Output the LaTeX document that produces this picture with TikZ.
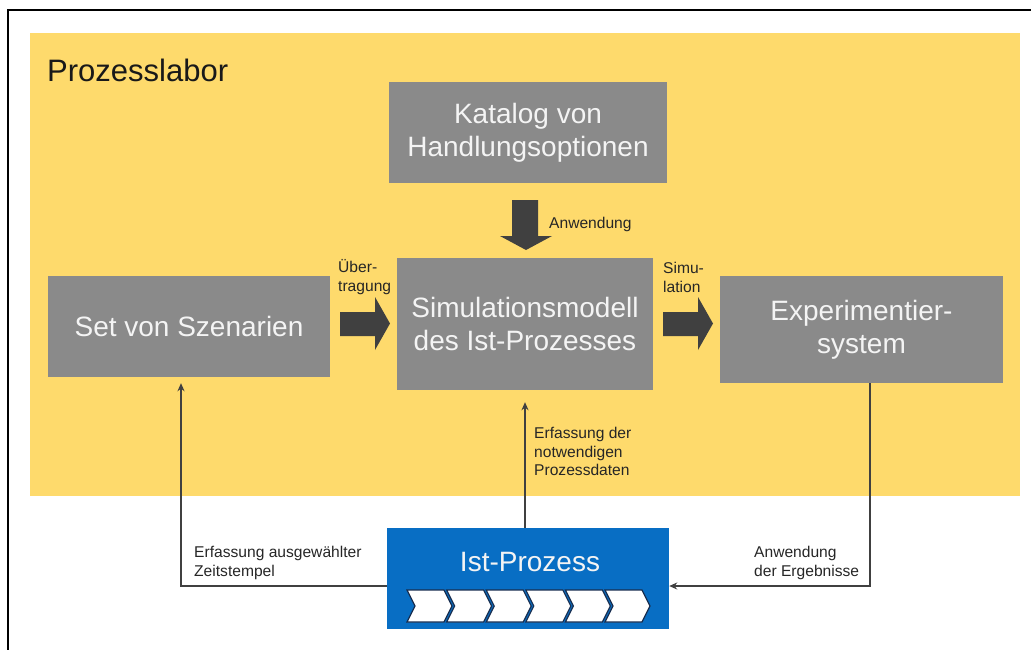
\documentclass[tikz,border=0pt]{standalone}
\usepackage{fontspec}
\setmainfont{Liberation Sans}
\usetikzlibrary{arrows.meta}

\definecolor{labyellow}{RGB}{254,218,108}
\definecolor{boxgray}{RGB}{138,138,138}
\definecolor{boxtext}{RGB}{244,244,244}
\definecolor{fatgray}{RGB}{64,64,64}
\definecolor{procblue}{RGB}{8,110,196}
\definecolor{chevline}{RGB}{24,46,80}
\definecolor{labeltext}{RGB}{38,38,38}

\tikzset{
  graybox/.style={rectangle, fill=boxgray, draw=none, text=boxtext,
    align=center, font=\fontsize{28}{33}\selectfont, inner sep=0pt},
  smalllabel/.style={anchor=west, align=left, text=labeltext, inner sep=0pt,
    font=\fontsize{15.6}{19}\selectfont},
  flow/.style={draw=fatgray, line width=1.5pt, -{Stealth[length=8pt,width=7pt]}},
  chevron/.style={fill=white, draw=chevline, line width=1.2pt, line join=miter}
}

\begin{document}
\begin{tikzpicture}[x=1pt, y=-1pt]
  \useasboundingbox (0,0) rectangle (1031,649);

  % outer frame (runs past the page on the right and bottom)
  \draw[black, line width=1.6pt] (8,700) -- (8,10) -- (1100,10);

  % lab area
  \fill[labyellow] (30,33) rectangle (1020,496);
  \node[anchor=west, inner sep=0pt, text=black!90,
        font=\fontsize{31}{35}\selectfont] (title) at (47,70) {Prozesslabor};

  % gray building blocks
  \node[graybox, minimum width=278pt, minimum height=101pt]
    (katalog) at (528,132.5) {Katalog von\\Handlungsoptionen};
  \node[graybox, minimum width=256pt, minimum height=132pt]
    (sim) at (525,324) {Simulationsmodell\\des Ist-Prozesses};
  \node[graybox, minimum width=282pt, minimum height=101pt]
    (set) at (189,326.5) {Set von Szenarien};
  \node[graybox, minimum width=283pt, minimum height=107pt]
    (exp) at (861.5,329.5) {Experimentier-\\system};

  % real process
  \node[rectangle, fill=procblue, minimum width=282pt, minimum height=101pt,
        inner sep=0pt] (ist) at (528,578.5) {};
  \node[text=boxtext, inner sep=0pt, font=\fontsize{28}{33}\selectfont]
    (istlabel) at (530,562) {Ist-Prozess};
  \foreach \i in {0,...,5} {
    \begin{scope}[xshift=407pt+\i*39.6pt]
      \draw[chevron] (0,590) -- (37,590) -- (45,606) -- (37,622) -- (0,622)
                     -- (8,606) -- cycle;
    \end{scope}
  }

  % broad arrows between the blocks
  \fill[fatgray] (512,200) -- (538,200) -- (538,236) -- (552,236) -- (526,250)
                 -- (500,236) -- (512,236) -- cycle;
  \fill[fatgray] (340,312) -- (375,312) -- (375,297) -- (390,323.5)
                 -- (375,350) -- (375,336) -- (340,336) -- cycle;
  \fill[fatgray] (663,312) -- (698,312) -- (698,297) -- (713,323.5)
                 -- (698,350) -- (698,336) -- (663,336) -- cycle;

  \node[smalllabel] (lanw) at (549,224) {Anwendung};
  \node[smalllabel] (luebertr) at (338,277.5) {Über-\\tragung};
  \node[smalllabel] (lsimu) at (663,277.5) {Simu-\\lation};

  % thin feedback connectors
  \coordinate (setfoot) at (181,586);
  \coordinate (expfoot) at (870,586);
  \draw[flow] (ist.west |- setfoot) -- (setfoot) -- ([yshift=-6pt]set.south -| setfoot);
  \draw[flow] (ist.north -| 525,0) -- ([yshift=-12pt]sim.south -| 525,0);
  \draw[flow] (exp.south -| expfoot) -- (expfoot) -- (ist.east |- expfoot);

  \node[smalllabel] (lzeit) at (194,563) {Erfassung ausgewählter\\Zeitstempel};
  \node[smalllabel, font=\fontsize{15.6}{18.5}\selectfont]
    (ldaten) at (534,451.5) {Erfassung der\\notwendigen\\Prozessdaten};
  \node[smalllabel] (lerg) at (754,563) {Anwendung\\der Ergebnisse};
\end{tikzpicture}
\end{document}
